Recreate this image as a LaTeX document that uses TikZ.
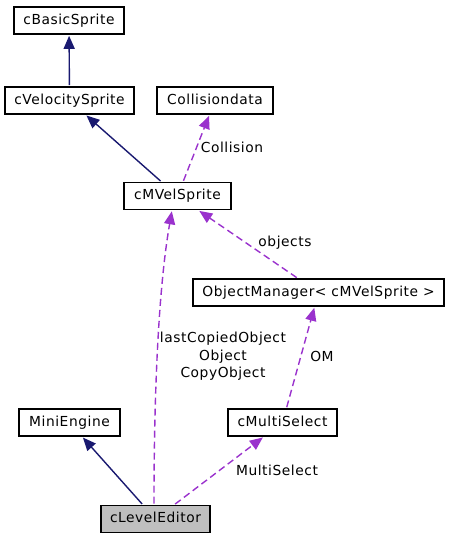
\documentclass[tikz,border=0pt]{standalone}
\usepackage{fontspec}
\setmainfont{DejaVu Sans}[LetterSpace=4.0]
\usetikzlibrary{arrows.meta,positioning}

\definecolor{inhblue}{HTML}{191970}
\definecolor{usepurple}{HTML}{9A32CD}
\definecolor{curgray}{HTML}{BFBFBF}

\begin{document}
\begin{tikzpicture}[
    x=1pt, y=-1pt,
    font=\fontsize{13.8}{17.5}\selectfont,
    cls/.style={draw, line width=1.8pt, fill=white, minimum height=27pt, inner xsep=2pt, inner ysep=0pt, text height=10pt, text depth=2.8pt},
    inherit/.style={draw=inhblue, line width=1.4pt, -{Triangle[length=13pt, width=11pt]}, shorten >=0.9pt, shorten <=0.9pt},
    uses/.style={draw=usepurple, line width=1.4pt, dash pattern=on 7pt off 4pt, -{Triangle[length=13pt, width=11pt, fill=usepurple]}, shorten >=0.9pt, shorten <=0.9pt},
    rolename/.style={align=center, inner sep=0pt},
]
\useasboundingbox (0,0) rectangle (449,539);

% ================== classes ==================
\node[cls, minimum width=110pt] (basic) at (69, 20.5) {cBasicSprite};
\node[cls, minimum width=129pt] (vel) at (69.5, 100.5) {cVelocitySprite};
\node[cls, minimum width=116pt] (coll) at (215, 100.5) {Collisiondata};
\node[cls, minimum width=107pt] (mvel) at (177.5, 196) {cMVelSprite};
\node[cls, minimum width=251pt] (objmgr) at (318.5, 292.5) {ObjectManager< cMVelSprite >};
\node[cls, minimum width=101pt] (mini) at (69.5, 422.5) {MiniEngine};
\node[cls, minimum width=109pt] (multi) at (282.5, 422.5) {cMultiSelect};
\node[cls, minimum width=109pt, fill=curgray] (editor) at (155.5, 519) {cLevelEditor};

% ================== inheritance ==================
\draw[inherit] (vel) -- (basic);
\draw[inherit] (mvel) -- (vel);
\draw[inherit] (editor) -- (mini);

% ================== usage ==================
\draw[uses] (mvel) -- (coll);
\draw[uses] (objmgr) -- (mvel);
\draw[uses] (multi) -- (objmgr);
\draw[uses] (editor) -- (multi);
\draw[uses] ([xshift=-1.5pt]editor.north) .. controls +(0,-106) and +(-14,80) .. ([xshift=-5.5pt]mvel.south);

% ================== role names ==================
\node[rolename] (collLbl) at (232, 147) {Collision};
\node[rolename] (objLbl) at (285, 243) {objects};
\node[rolename] (copyLbl) at (223, 356.5) {lastCopiedObject\\Object\\CopyObject};
\node[rolename] (omLbl) at (322, 356) {OM};
\node[rolename] (multiLbl) at (277, 470) {MultiSelect};

\end{tikzpicture}
\end{document}
